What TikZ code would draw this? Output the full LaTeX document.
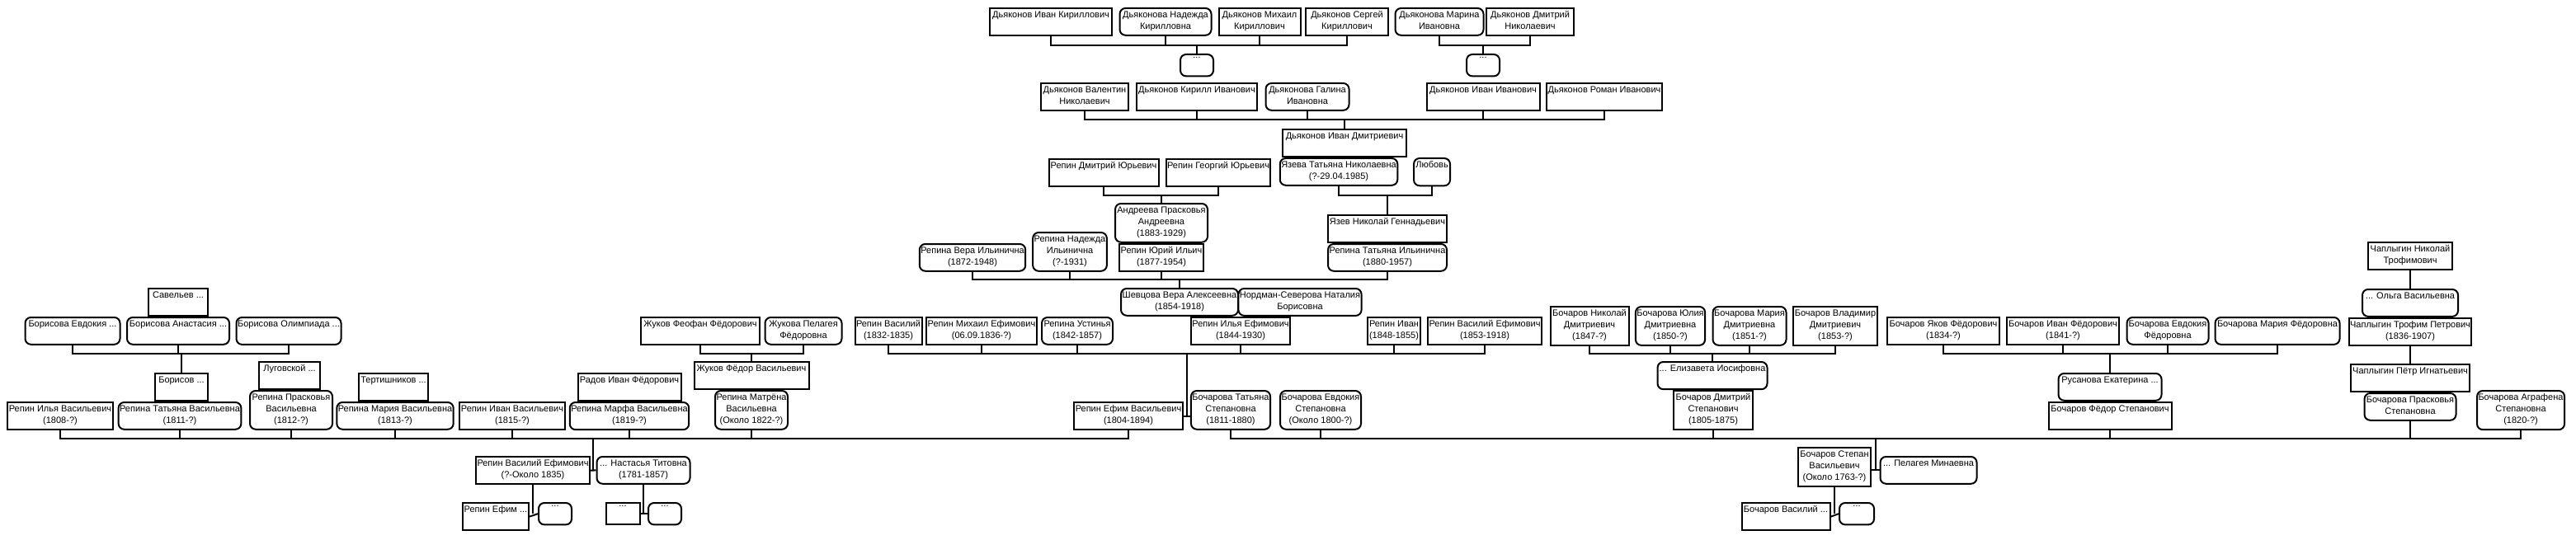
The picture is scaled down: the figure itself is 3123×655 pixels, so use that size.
\documentclass[tikz,border=0pt]{standalone}
\usepackage{fontspec}
\setmainfont{Liberation Sans}
\usepackage{tikz}
\usetikzlibrary{calc}
\tikzset{
every picture/.style={line width=2pt, x=1pt, y=-1pt},
%%%%%%%%%%  Node styles
person/.style={draw, fill=white, line width=2pt, anchor=north, align=center,
               inner xsep=1.5pt, inner ysep=3.5pt,
               font=\fontsize{11}{14}\selectfont,
               execute at begin node=\strut, execute at end node=\strut},
male/.style={person, minimum width=#1},
female/.style={person, rounded corners=7pt, minimum width=#1},
%%%% line styles
treeline/.style={line width=2pt}
}

\begin{document}
\begin{tikzpicture}
\useasboundingbox (0,0) rectangle (3123,655);
%% levels of the sibling bars
\coordinate (barA) at (0,55);
\coordinate (barB) at (0,145);
\coordinate (barY) at (0,237);
\coordinate (barC) at (0,339);
\coordinate (barD) at (0,429);
\coordinate (barE) at (0,532);
%%%%%%%%%%%%%%%%%%%%%%%%%%%%%%%%%%%%%%%%%%%%%%%%%%%%
%% Dyakonov branch
\node[male=148] (dIK) at (1274,9) {Дьяконов Иван Кириллович\\};
\node[female=111] (dNK) at (1413,9) {Дьяконова Надежда\\Кирилловна};
\node[male=99] (dMK) at (1527,9) {Дьяконов Михаил\\Кириллович};
\node[male=100] (dSK) at (1633,9) {Дьяконов Сергей\\Кириллович};
\node[female=107] (dMI) at (1745,9) {Дьяконова Марина\\Ивановна};
\node[male=106] (dDN) at (1855,9) {Дьяконов Дмитрий\\Николаевич};
\node[female=40] (wKI) at (1451,65) {...\\};
\node[female=40] (wII) at (1798,65) {...\\};
\node[male=106] (dVN) at (1315,100) {Дьяконов Валентин\\Николаевич};
\node[male=146] (dKI) at (1451,100) {Дьяконов Кирилл Иванович\\};
\node[female=101] (dGI) at (1585,100) {Дьяконова Галина\\Ивановна};
\node[male=137] (dII) at (1798,100) {Дьяконов Иван Иванович\\};
\node[male=137] (dRI) at (1945,100) {Дьяконов Роман Иванович\\};
\node[male=150] (dID) at (1630,156) {Дьяконов Иван Дмитриевич\\};
\node[female=131] (yTN) at (1623,191) {Язева Татьяна Николаевна\\(?-29.04.1985)};
\node[female=44] (lyub) at (1736,191) {Любовь\\};
\node[male=144] (yNG) at (1682,260) {Язев Николай Геннадьевич\\};
\node[female=144] (rTI) at (1682,295) {Репина Татьяна Ильинична\\(1880-1957)};
%% Repin, children of Ilya
\node[male=133] (rDY) at (1338,192) {Репин Дмитрий Юрьевич\\};
\node[male=126] (rGY) at (1477,192) {Репин Георгий Юрьевич\\};
\node[female=112] (aPA) at (1408,246) {Андреева Прасковья\\Андреевна\\(1883-1929)};
\node[male=101] (rYI) at (1408,295) {Репин Юрий Ильич\\(1877-1954)};
\node[female=125] (rVI) at (1179,295) {Репина Вера Ильинична\\(1872-1948)};
\node[female=89] (rNI) at (1297,281) {Репина Надежда\\Ильинична\\(?-1931)};
\node[female=142] (shVA) at (1430,349) {Шевцова Вера Алексеевна\\(1854-1918)};
\node[female=148] (nsNB) at (1576,349) {Нордман-Северова Наталия\\Борисовна};
\node[male=117] (rIE) at (1504,384) {Репин Илья Ефимович\\(1844-1930)};
\node[male=77] (rV) at (1077,384) {Репин Василий\\(1832-1835)};
\node[male=131] (rME) at (1190,384) {Репин Михаил Ефимович\\(06.09.1836-?)};
\node[female=86] (rU) at (1306,384) {Репина Устинья\\(1842-1857)};
\node[male=64] (rI) at (1690,384) {Репин Иван\\(1848-1855)};
\node[male=132] (rVE) at (1800,384) {Репин Василий Ефимович\\(1853-1918)};
\node[male=128] (rEV) at (1368,487) {Репин Ефим Васильевич\\(1804-1894)};
\node[female=96] (bTS) at (1492,473) {Бочарова Татьяна\\Степановна\\(1811-1880)};
\node[female=98] (bES) at (1601,473) {Бочарова Евдокия\\Степановна\\(Около 1800-?)};
%%%%%%%%%%%%%%%%%%%%%%%%%%%%%%%%%%%%%%%%%%%%%%%%%%%%
%% left: children of Vasily Efimovich
\node[male=72] (sav) at (216,349) {Савельев ...\\};
\node[female=115] (bEv) at (88,384) {Борисова Евдокия ...\\};
\node[female=124] (bAn) at (216,384) {Борисова Анастасия ...\\};
\node[female=127] (bOl) at (350,384) {Борисова Олимпиада ...\\};
\node[male=64] (bor) at (220,452) {Борисов ...\\};
\node[male=127] (rIV) at (73,487) {Репин Илья Васильевич\\(1808-?)};
\node[female=147] (rTV) at (218,487) {Репина Татьяна Васильевна\\(1811-?)};
\node[male=74] (lug) at (351,438) {Луговской ...\\};
\node[female=100] (rPV) at (353,473) {Репина Прасковья\\Васильевна\\(1812-?)};
\node[male=84] (ter) at (477,452) {Тертишников ...\\};
\node[female=137] (rMV) at (479,487) {Репина Мария Васильевна\\(1813-?)};
\node[male=126] (rIVb) at (621,487) {Репин Иван Васильевич\\(1815-?)};
\node[male=125] (rad) at (763,452) {Радов Иван Фёдорович\\};
\node[female=141] (rMfV) at (763,487) {Репина Марфа Васильевна\\(1819-?)};
\node[male=144] (zhFF) at (849,384) {Жуков Феофан Фёдорович\\};
\node[female=93] (zhPF) at (974,384) {Жукова Пелагея\\Фёдоровна};
\node[male=139] (zhFV) at (911,438) {Жуков Фёдор Васильевич\\};
\node[female=88] (rMtV) at (911,473) {Репина Матрёна\\Васильевна\\(Около 1822-?)};
\node[male=133] (rVEf) at (646,553) {Репин Василий Ефимович\\(?-Около 1835)};
\node[female=113] (nT) at (780,553) {... Настасья Титовна\\(1781-1857)};
\node[male=80] (rEf) at (601,609) {Репин Ефим ...\\};
\node[female=40] (w1) at (673,609) {...\\};
\node[male=41] (m2) at (755,609) {...\\};
\node[female=40] (w2) at (806,609) {...\\};
%%%%%%%%%%%%%%%%%%%%%%%%%%%%%%%%%%%%%%%%%%%%%%%%%%%%
%% right: Bocharov branch
\node[male=95] (bND) at (1927,371) {Бочаров Николай\\Дмитриевич\\(1847-?)};
\node[female=84] (bYD) at (2025,371) {Бочарова Юлия\\Дмитриевна\\(1850-?)};
\node[female=89] (bMD) at (2121,371) {Бочарова Мария\\Дмитриевна\\(1851-?)};
\node[male=100] (bVD) at (2225,371) {Бочаров Владимир\\Дмитриевич\\(1853-?)};
\node[female=133] (eI) at (2076,438) {... Елизавета Иосифовна\\};
\node[male=96] (bDS) at (2077,473) {Бочаров Дмитрий\\Степанович\\(1805-1875)};
\node[male=136] (bYF) at (2356,384) {Бочаров Яков Фёдорович\\(1834-?)};
\node[male=136] (bIF) at (2501,384) {Бочаров Иван Фёдорович\\(1841-?)};
\node[female=99] (bEF) at (2628,384) {Бочарова Евдокия\\Фёдоровна};
\node[female=151] (bMF) at (2761,384) {Бочарова Мария Фёдоровна\\};
\node[female=125] (rEk) at (2558,452) {Русанова Екатерина ...\\};
\node[male=149] (bFS) at (2558,487) {Бочаров Фёдор Степанович\\};
\node[male=102] (chNT) at (2922,293) {Чаплыгин Николай\\Трофимович};
\node[female=116] (oV) at (2922,350) {... Ольга Васильевна\\};
\node[male=146] (chTP) at (2922,385) {Чаплыгин Трофим Петрович\\(1836-1907)};
\node[male=144] (chPI) at (2922,441) {Чаплыгин Пётр Игнатьевич\\};
\node[female=111] (bPS) at (2922,476) {Бочарова Прасковья\\Степановна};
\node[female=102] (bAS) at (3056,473) {Бочарова Аграфена\\Степановна\\(1820-?)};
\node[male=88] (bSV) at (2224,542) {Бочаров Степан\\Васильевич\\(Около 1763-?)};
\node[female=117] (pM) at (2338,553) {... Пелагея Минаевна\\};
\node[male=107] (bVa) at (2165,609) {Бочаров Василий ...\\};
\node[female=42] (w3) at (2251,609) {...\\};
%%%%%%%%%%%%%%%%%%%%%%%%%%%%%%%%%%%%%%%%%%%%%%%%%%%%
%% sibling bars; first and last child, then the middle ones, then the parent
\draw[treeline] (dIK.south) -- (dIK.south |- barA) -- (dSK.south |- barA) -- (dSK.south);
\foreach \n in {dNK,dMK} \draw[treeline] (\n.south) -- (\n.south |- barA);
\draw[treeline] (wKI.north) -- (wKI.north |- barA);
\draw[treeline] (dMI.south) -- (dMI.south |- barA) -- (dDN.south |- barA) -- (dDN.south);
\draw[treeline] (wII.north) -- (wII.north |- barA);
\draw[treeline] (dVN.south) -- (dVN.south |- barB) -- (dRI.south |- barB) -- (dRI.south);
\foreach \n in {dKI,dGI,dII} \draw[treeline] (\n.south) -- (\n.south |- barB);
\draw[treeline] (dID.north) -- (dID.north |- barB);
\draw[treeline] (yTN.south) -- (yTN.south |- barY) -- (lyub.south |- barY) -- (lyub.south);
\draw[treeline] (yNG.north) -- (yNG.north |- barY);
\draw[treeline] (rDY.south) -- (rDY.south |- barY) -- (rGY.south |- barY) -- (rGY.south);
\draw[treeline] (aPA.north) -- (aPA.north |- barY);
\draw[treeline] (rVI.south) -- (rVI.south |- barC) -- (rTI.south |- barC) -- (rTI.south);
\foreach \n in {rNI,rYI} \draw[treeline] (\n.south) -- (\n.south |- barC);
\draw[treeline] (shVA.north) -- (shVA.north |- barC);
%% children of Efim and Tatyana
\draw[treeline] (rV.south) -- (rV.south |- barD) -- (rVE.south |- barD) -- (rVE.south);
\foreach \n in {rME,rU,rIE,rI} \draw[treeline] (\n.south) -- (\n.south |- barD);
\coordinate (jE) at ($(rEV.east)!0.5!(rEV.east -| bTS.west)$);
\draw[treeline] (rEV.east) -- (rEV.east -| bTS.west);
\draw[treeline] (jE) -- (jE |- barD);
%% left families
\draw[treeline] (bEv.south) -- (bEv.south |- barD) -- (bOl.south |- barD) -- (bOl.south);
\draw[treeline] (bAn.south) -- (bAn.south |- barD);
\draw[treeline] (bor.north) -- (bor.north |- barD);
\draw[treeline] (zhFF.south) -- (zhFF.south |- barD) -- (zhPF.south |- barD) -- (zhPF.south);
\draw[treeline] (zhFV.north) -- (zhFV.north |- barD);
%% right families
\draw[treeline] (bND.south) -- (bND.south |- barD) -- (bVD.south |- barD) -- (bVD.south);
\foreach \n in {bYD,bMD} \draw[treeline] (\n.south) -- (\n.south |- barD);
\draw[treeline] (eI.north) -- (eI.north |- barD);
\draw[treeline] (bYF.south) -- (bYF.south |- barD) -- (bMF.south |- barD) -- (bMF.south);
\foreach \n in {bIF,bEF} \draw[treeline] (\n.south) -- (\n.south |- barD);
\draw[treeline] (rEk.north) -- (rEk.north |- barD);
\draw[treeline] (chNT.south) -- (chNT.south |- oV.north);
\draw[treeline] (chTP.south) -- (chTP.south |- chPI.north);
%% long bar: Repin children
\draw[treeline] (rIV.south) -- (rIV.south |- barE) -- (rEV.south |- barE) -- (rEV.south);
\foreach \n in {rTV,rPV,rMV,rIVb,rMfV,rMtV} \draw[treeline] (\n.south) -- (\n.south |- barE);
\coordinate (jV) at ($(rVEf.east)!0.5!(nT.west)$);
\draw[treeline] (rVEf.east) -- (nT.west);
\draw[treeline] (jV) -- (jV |- barE);
%% long bar: Bocharov children
\draw[treeline] (bTS.south) -- (bTS.south |- barE) -- (bAS.south |- barE) -- (bAS.south);
\foreach \n in {bES,bDS,bFS,bPS} \draw[treeline] (\n.south) -- (\n.south |- barE);
\coordinate (jS) at ($(pM.west -| bSV.east)!0.5!(pM.west)$);
\draw[treeline] (pM.west -| bSV.east) -- (pM.west);
\draw[treeline] (jS) -- (jS |- barE);
%% parents at the bottom
\draw[treeline] (rEf.east) -- (w1.west);
\draw[treeline] (rVEf.south) -- (rVEf.south |- w1.west);
\draw[treeline] (m2.east) -- (w2.west);
\draw[treeline] (nT.south) -- (nT.south |- w2.west);
\draw[treeline] (bVa.east) -- (w3.west);
\draw[treeline] (bSV.south) -- (bSV.south |- w3.west);
\end{tikzpicture}
\end{document}
